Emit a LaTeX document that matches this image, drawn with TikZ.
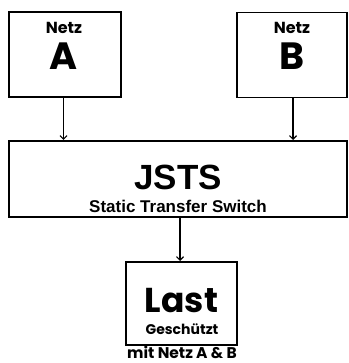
\documentclass[tikz,border=0pt]{standalone}
\usepackage{fontspec}
\setmainfont{Poppins}[BoldFont={Poppins Bold}]
\newfontfamily\arialfont{Liberation Sans}
\usetikzlibrary{arrows.meta}
\begin{document}
\begin{tikzpicture}[x=1pt,y=1pt,
  box/.style={draw=black,line width=2pt,fill=white,inner sep=0pt},
  conn/.style={line width=1.2pt,-{Straight Barb[length=3.5pt,width=7pt,line width=1.2pt]}},
  txt/.style={inner sep=0pt,font=\bfseries}]
\useasboundingbox (0,0) rectangle (348,363);
% boxes (y = 363 - image y)
\node[box,minimum width=112pt,minimum height=85pt] (A) at (65,308) {};
\node[box,line width=1.6pt,minimum width=110pt,minimum height=85pt] (B) at (292,308) {};
\node[box,minimum width=338pt,minimum height=76pt] (S) at (178,184) {};
\node[box,minimum width=111pt,minimum height=83pt] (L) at (181.5,59.5) {};
% texts
\node[txt,font=\fontsize{16}{16}\bfseries] (nA) at (64,335.5) {Netz};
\node[txt,font=\fontsize{38}{38}\bfseries] (tA) at (64,307) {A};
\node[txt,font=\fontsize{16}{16}\bfseries] (nB) at (292,335.5) {Netz};
\node[txt,font=\fontsize{38}{38}\bfseries] (tB) at (292,307) {B};
\node[txt,font=\arialfont\fontsize{35}{35}\bfseries] (js) at (178,186) {JSTS};
\node[txt,font=\arialfont\fontsize{17}{17}\bfseries] (st) at (178,157) {Static Transfer Switch};
\node[txt,font=\fontsize{34.5}{34.5}\bfseries] (la) at (181.5,62) {Last};
\node[txt,font=\fontsize{14}{14}\bfseries] (ge) at (182,34) {Geschützt};
\node[txt,font=\fontsize{15.5}{15.5}\bfseries] (mi) at (182,11) {mit Netz A \& B};
% connectors
\draw[conn] (A.south -| 63.5,0) -- (S.north -| 63.5,0);
\draw[conn] (B.south -| 293,0) -- (S.north -| 293,0);
\draw[conn] (S.south -| 180,0) -- (L.north -| 180,0);
\end{tikzpicture}
\end{document}
